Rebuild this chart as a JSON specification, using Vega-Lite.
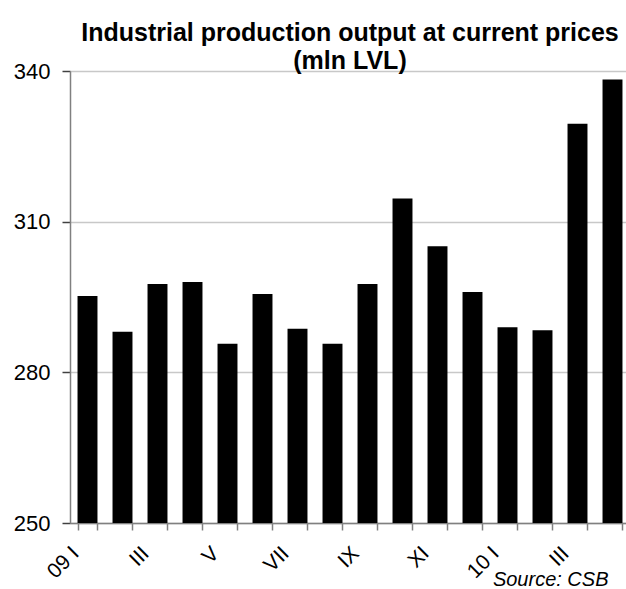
{
  "$schema": "https://vega.github.io/schema/vega-lite/v6.json",
  "width": 560,
  "height": 452,
  "autosize": "none",
  "padding": {"left": 70, "top": 71, "right": 0, "bottom": 66},
  "background": "white",
  "config": {
    "font": "Liberation Sans",
    "view": {"stroke": null}
  },
  "title": {
    "text": ["Industrial production output at current prices", "(mln LVL)"],
    "font": "Liberation Sans",
    "fontSize": 25,
    "fontWeight": "bold",
    "color": "black",
    "anchor": "middle",
    "lineHeight": 28,
    "offset": -14
  },
  "data": {
    "values": [
      {"month": "09 I", "value": 295.2},
      {"month": "09 II", "value": 288.1},
      {"month": "09 III", "value": 297.6},
      {"month": "09 IV", "value": 298.0},
      {"month": "09 V", "value": 285.7},
      {"month": "09 VI", "value": 295.6},
      {"month": "09 VII", "value": 288.7},
      {"month": "09 VIII", "value": 285.7},
      {"month": "09 IX", "value": 297.6},
      {"month": "09 X", "value": 314.6},
      {"month": "09 XI", "value": 305.1},
      {"month": "09 XII", "value": 296.0},
      {"month": "10 I", "value": 289.0},
      {"month": "10 II", "value": 288.4},
      {"month": "10 III", "value": 329.5},
      {"month": "10 IV", "value": 338.3}
    ]
  },
  "mark": {"type": "bar", "color": "black"},
  "encoding": {
    "x": {
      "field": "month",
      "type": "ordinal",
      "sort": null,
      "scale": {"paddingInner": 0.43, "paddingOuter": 0.215},
      "axis": {
        "title": "Source: CSB",
        "titleFont": "Liberation Sans",
        "titleFontSize": 20,
        "titleFontStyle": "italic",
        "titleFontWeight": "normal",
        "titleColor": "black",
        "titleAlign": "right",
        "titleAnchor": "end",
        "titleBaseline": "alphabetic",
        "titleX": 538,
        "titleY": 62,
        "labelExpr": "indexof(['09 I','09 III','09 V','09 VII','09 IX','09 XI','10 I','10 III'], datum.value) >= 0 ? ((datum.value == '09 I' || datum.value == '10 I') ? datum.value : slice(datum.value, 3)) : ''",
        "labelAngle": -45,
        "labelAlign": "right",
        "labelBaseline": "middle",
        "labelFontSize": 21,
        "labelColor": "black",
        "labelPadding": 20,
        "labelOffset": -12,
        "labelOverlap": false,
        "tickBand": "extent",
        "tickColor": "#808080",
        "tickSize": 7,
        "tickWidth": 1.5,
        "domainColor": "#808080",
        "domainWidth": 1.5
      }
    },
    "y": {
      "field": "value",
      "type": "quantitative",
      "scale": {"domain": [250, 340], "zero": false, "nice": false},
      "axis": {
        "title": null,
        "values": [250, 280, 310, 340],
        "grid": true,
        "gridColor": "#c8c8c8",
        "gridWidth": 1.5,
        "domainColor": "#808080",
        "domainWidth": 1.5,
        "tickColor": "#404040",
        "tickSize": 8,
        "tickWidth": 1.5,
        "labelFontSize": 22,
        "labelColor": "black",
        "labelPadding": 12
      }
    },
    "y2": {"datum": 250}
  }
}
